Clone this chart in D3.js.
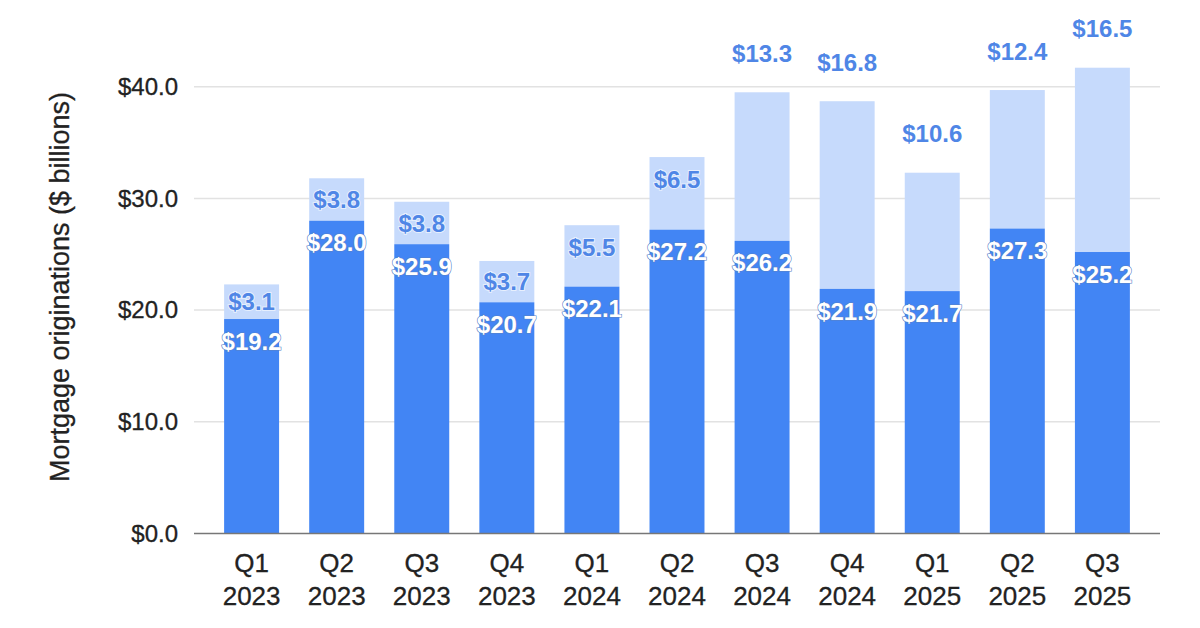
<!DOCTYPE html>
<html lang="en">
<head>
<meta charset="utf-8">
<script src="https://cdn.jsdelivr.net/npm/d3@7/dist/d3.min.js"></script>
<style>
  body { margin: 0; background: #fff; }
  text { font-family: "Liberation Sans", Arial, sans-serif; }
</style>
<title>Mortgage originations</title>
</head>
<body>
<script>
// quarters shown on the x axis (two lines each)
var quarters = ["Q1", "Q2", "Q3", "Q4", "Q1", "Q2", "Q3", "Q4", "Q1", "Q2", "Q3"];
var years    = ["2023", "2023", "2023", "2023", "2024", "2024", "2024", "2024", "2025", "2025", "2025"];
// dark bottom segment and light top segment, $ billions
var baseValues = [19.2, 28.0, 25.9, 20.7, 22.1, 27.2, 26.2, 21.9, 21.7, 27.3, 25.2];
var topValues  = [3.1, 3.8, 3.8, 3.7, 5.5, 6.5, 13.3, 16.8, 10.6, 12.4, 16.5];
var yTicks = [0, 10, 20, 30, 40];

var w = 1200, h = 628;
var dark = "#4285f4", light = "#c6dafc", labelBlue = "#4f86e6";

var svg = d3.select("body").append("svg")
  .attr("width", w)
  .attr("height", h);

var keys = quarters.map(function(q, i) { return q + " " + years[i]; });

var x = d3.scaleBand()
  .domain(keys)
  .range([194, 1160])
  .padding(0.354);

var y = d3.scaleLinear()
  .domain([0, 40])
  .range([533.5, 86.7]);

// gridlines
svg.append("g").selectAll("line")
  .data(yTicks.slice(1))
  .enter().append("line")
  .attr("x1", 194).attr("x2", 1160)
  .attr("y1", function(d) { return y(d); })
  .attr("y2", function(d) { return y(d); })
  .attr("stroke", "#e2e2e2")
  .attr("stroke-width", 1.5);

// y axis labels
var yAxis = d3.axisLeft(y)
  .tickValues(yTicks)
  .tickSize(0)
  .tickPadding(16)
  .tickFormat(function(d) { return "$" + d3.format(".1f")(d); });

var gy = svg.append("g")
  .attr("transform", "translate(194,0)")
  .call(yAxis);
gy.select(".domain").remove();
gy.selectAll("text")
  .attr("font-size", 24)
  .attr("fill", "#222")
  .attr("stroke", "#222")
  .attr("stroke-width", 0.3);

// bars
var rows = keys.map(function(k, i) {
  return { key: k, base: baseValues[i], top: topValues[i] };
});

svg.append("g").selectAll("rect")
  .data(rows)
  .enter().append("rect")
  .attr("x", function(d) { return x(d.key); })
  .attr("width", x.bandwidth())
  .attr("y", function(d) { return y(d.base + d.top); })
  .attr("height", function(d) { return y(d.base) - y(d.base + d.top); })
  .attr("fill", light);

svg.append("g").selectAll("rect")
  .data(rows)
  .enter().append("rect")
  .attr("x", function(d) { return x(d.key); })
  .attr("width", x.bandwidth())
  .attr("y", function(d) { return y(d.base); })
  .attr("height", function(d) { return y(0) - y(d.base); })
  .attr("fill", dark);

// baseline
svg.append("line")
  .attr("x1", 194).attr("x2", 1160)
  .attr("y1", y(0)).attr("y2", y(0))
  .attr("stroke", "#777")
  .attr("stroke-width", 1.5);

// x axis labels
var xAxis = d3.axisBottom(x).tickSize(0).tickFormat("");
var gx = svg.append("g")
  .attr("transform", "translate(0," + y(0) + ")")
  .call(xAxis);
gx.select(".domain").remove();
gx.selectAll(".tick").each(function(d, i) {
  var t = d3.select(this).append("text")
    .attr("text-anchor", "middle")
    .attr("font-size", 26)
    .attr("fill", "#222")
    .attr("stroke", "#222")
    .attr("stroke-width", 0.3);
  t.append("tspan").attr("x", 0).attr("y", 38).text(quarters[i]);
  t.append("tspan").attr("x", 0).attr("y", 71).text(years[i]);
});

var fmt = function(v) { return "$" + d3.format(".1f")(v); };

// labels on dark segments
svg.append("g").selectAll("text")
  .data(rows)
  .enter().append("text")
  .attr("x", function(d) { return x(d.key) + x.bandwidth() / 2; })
  .attr("y", function(d) { return y(d.base) + 22; })
  .attr("dy", "0.36em")
  .attr("text-anchor", "middle")
  .attr("font-size", 24)
  .attr("font-weight", "bold")
  .attr("fill", "#fff")
  .attr("stroke", "#5a82c8")
  .attr("stroke-width", 1.2)
  .attr("paint-order", "stroke")
  .text(function(d) { return fmt(d.base); });

// labels on light segments: inside when small, above the bar when large
svg.append("g").selectAll("text")
  .data(rows)
  .enter().append("text")
  .attr("x", function(d) { return x(d.key) + x.bandwidth() / 2; })
  .attr("y", function(d) {
    var t = y(d.base + d.top), b = y(d.base);
    if (d.top >= 10) return t - 39;
    return Math.min(t + 22, (t + b) / 2);
  })
  .attr("dy", "0.36em")
  .attr("text-anchor", "middle")
  .attr("font-size", 24)
  .attr("font-weight", "bold")
  .attr("fill", labelBlue)
  .attr("stroke", "#fff")
  .attr("stroke-width", 2)
  .attr("stroke-opacity", 0.6)
  .attr("paint-order", "stroke")
  .text(function(d) { return fmt(d.top); });

// y axis title
svg.append("text")
  .attr("transform", "translate(59,287) rotate(-90)")
  .attr("text-anchor", "middle")
  .attr("dy", "0.36em")
  .attr("font-size", 27)
  .attr("fill", "#222")
  .attr("stroke", "#222")
  .attr("stroke-width", 0.3)
  .text("Mortgage originations ($ billions)");
</script>
</body>
</html>
